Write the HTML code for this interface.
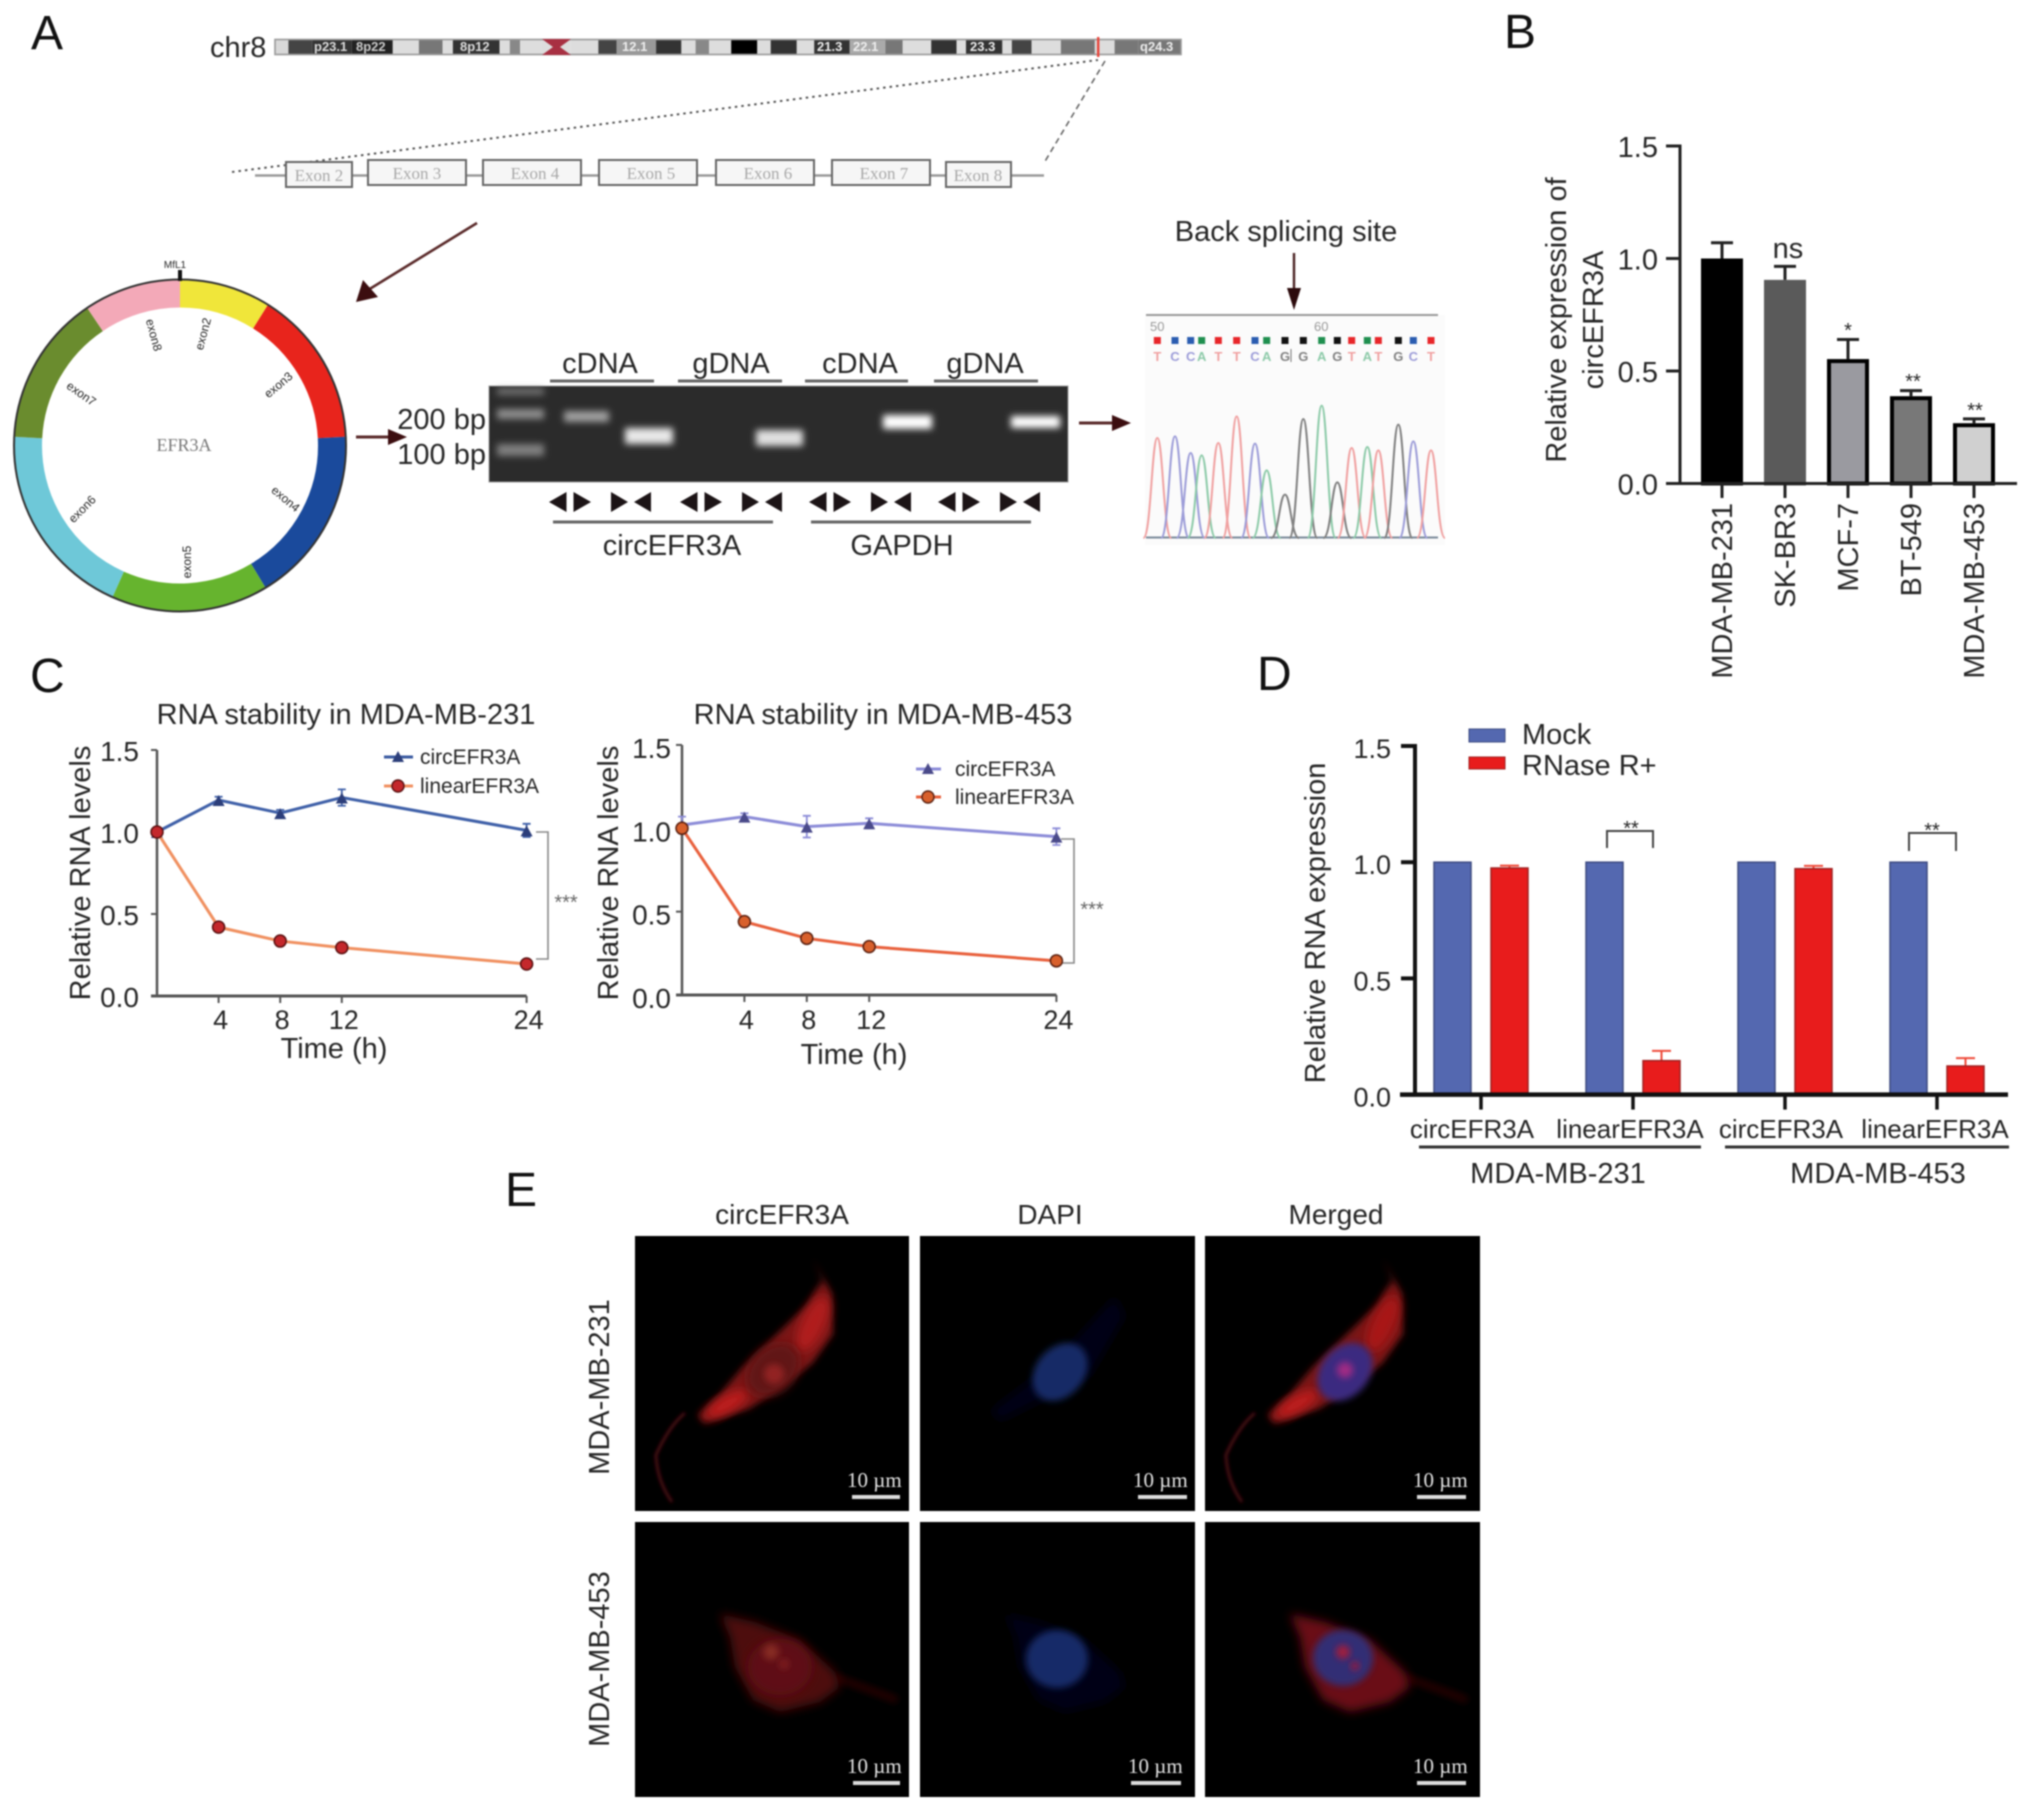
<!DOCTYPE html>
<html lang="en">
<head>
<meta charset="utf-8">
<title>circEFR3A multi-panel figure</title>
<style>
html,body{margin:0;padding:0;background:#fff;}
#figure{display:block;width:2032px;height:1811px;filter:blur(0.8px);}
text{font-family:"Liberation Sans",sans-serif;fill:#262626;}
.serif{font-family:"Liberation Serif",serif;}
.pl{font-size:48px;fill:#111;}
.t29{font-size:29px;}
.t28{font-size:28px;}
.leg{font-size:21px;}
.sb{font-family:"Liberation Serif",serif;font-size:21px;fill:#e4e4e4;}
.ex{font-family:"Liberation Serif",serif;font-size:17px;fill:#a8a8a8;text-anchor:middle;}
.rl{font-size:12px;fill:#222;text-anchor:middle;}
.mid{text-anchor:middle;}
.end{text-anchor:end;}
</style>
</head>
<body>
<svg id="figure" width="2032" height="1811" viewBox="0 0 2032 1811">
<defs>
  <filter id="b1" x="-30%" y="-30%" width="160%" height="160%"><feGaussianBlur stdDeviation="1.5"/></filter>
  <filter id="b2" x="-30%" y="-60%" width="160%" height="220%"><feGaussianBlur stdDeviation="3.4"/></filter>
  <filter id="b5" x="-40%" y="-40%" width="180%" height="180%"><feGaussianBlur stdDeviation="5"/></filter>
  <filter id="b9" x="-60%" y="-60%" width="220%" height="220%"><feGaussianBlur stdDeviation="9"/></filter>
  <polygon id="cell-a" points="177.5,21.5 196.6,57 198,98 177.5,127 145.6,152 113.7,173 69,187.6 62.7,179 85,158 108,131 140,100 172,69 186,44"/>
  <polygon id="cell-b" points="85,92 120,100 165,118 200,150 205,165 185,180 145,190 118,178 100,145 95,115"/>
</defs>
<rect width="2032" height="1811" fill="#fff"/>

<!-- Panel labels -->
<text class="pl" x="31" y="49">A</text>
<text class="pl" x="1504" y="48">B</text>
<text class="pl" x="30" y="692">C</text>
<text class="pl" x="1257" y="690">D</text>
<text class="pl" x="505" y="1206">E</text>

<!-- Panel A: chromosome -->
<g id="panel-a">
  <text class="t29" x="210" y="57">chr8</text>
  <g id="ideogram"></g>
  <polygon points="542,39 571,39 560,47 571,55 542,55 553,47" fill="#a83042"/>
  <rect x="1097" y="37" width="2.4" height="20" fill="#e8443a"/>
  <g font-family="Liberation Mono, monospace" font-weight="bold">
    <text x="314" y="51" font-size="13" style="fill:#ddd">p23.1</text>
    <text x="356" y="51" font-size="13" style="fill:#ccc">8p22</text>
    <text x="460" y="51" font-size="13" style="fill:#ddd">8p12</text>
    <text x="622" y="51" font-size="13" style="fill:#eee">12.1</text>
    <text x="817" y="51" font-size="13" style="fill:#eee">21.3</text>
    <text x="853" y="51" font-size="13" style="fill:#eee">22.1</text>
    <text x="970" y="51" font-size="13" style="fill:#eee">23.3</text>
    <text x="1140" y="51" font-size="13" style="fill:#eee">q24.3</text>
  </g>
  <line x1="232" y1="172" x2="1098" y2="60" stroke="#555" stroke-width="2" stroke-dasharray="2.5 4"/>
  <line x1="1105" y1="61" x2="1044" y2="163" stroke="#666" stroke-width="1.6" stroke-dasharray="6 4"/>

  <line x1="255" y1="175.5" x2="1044" y2="175.5" stroke="#999" stroke-width="2.4"/>
  <g fill="#f6f6f6" stroke="#666" stroke-width="2">
    <rect x="286" y="162" width="66" height="25"/>
    <rect x="368" y="160" width="98" height="25"/>
    <rect x="483" y="160" width="98" height="25"/>
    <rect x="599" y="160" width="98" height="25"/>
    <rect x="716" y="160" width="98" height="25"/>
    <rect x="832" y="160" width="98" height="25"/>
    <rect x="946" y="162" width="65" height="25"/>
  </g>
  <text class="ex" x="319" y="181">Exon 2</text>
  <text class="ex" x="417" y="179">Exon 3</text>
  <text class="ex" x="535" y="179">Exon 4</text>
  <text class="ex" x="651" y="179">Exon 5</text>
  <text class="ex" x="768" y="179">Exon 6</text>
  <text class="ex" x="884" y="179">Exon 7</text>
  <text class="ex" x="978" y="181">Exon 8</text>

  <line x1="477" y1="223" x2="368" y2="290" stroke="#5a2a2a" stroke-width="2.6"/>
  <polygon points="356,302 363,280 378,297" fill="#3c0e10"/>

  <!-- circular RNA -->
  <g id="ring"></g>
  <circle cx="180" cy="445.5" r="166" fill="none" stroke="#333" stroke-width="2"/>
  <line x1="180" y1="270" x2="180" y2="281" stroke="#111" stroke-width="4"/>
  <text x="175" y="268" font-size="10" class="mid">MfL1</text>
  <text class="serif" x="184" y="451" font-size="18" text-anchor="middle" style="fill:#777">EFR3A</text>
  <text class="rl" transform="translate(207,335) rotate(-75)">exon2</text>
  <text class="rl" transform="translate(281,388) rotate(-40)">exon3</text>
  <text class="rl" transform="translate(283,502) rotate(40)">exon4</text>
  <text class="rl" transform="translate(191,562) rotate(-90)">exon5</text>
  <text class="rl" transform="translate(85,512) rotate(-45)">exon6</text>
  <text class="rl" transform="translate(79,397) rotate(35)">exon7</text>
  <text class="rl" transform="translate(150,336) rotate(75)">exon8</text>

  <line x1="356" y1="437" x2="392" y2="437" stroke="#5a2a2a" stroke-width="3"/>
  <polygon points="407,437 388,429 388,445" fill="#3c0e10"/>

  <!-- gel -->
  <text class="t29 end" x="486" y="429">200 bp</text>
  <text class="t29 end" x="486" y="464">100 bp</text>
  <g>
    <text class="t29 mid" x="600" y="373">cDNA</text>
    <text class="t29 mid" x="731" y="373">gDNA</text>
    <text class="t29 mid" x="860" y="373">cDNA</text>
    <text class="t29 mid" x="985" y="373">gDNA</text>
    <rect x="550" y="379.5" width="104" height="3" fill="#666"/>
    <rect x="678" y="379.5" width="104" height="3" fill="#666"/>
    <rect x="805" y="379.5" width="103" height="3" fill="#666"/>
    <rect x="934" y="379.5" width="104" height="3" fill="#666"/>
  </g>
  <g id="gel">
    <rect x="489" y="386" width="579" height="96" fill="#2b2b2b" stroke="#999" stroke-width="1"/>
    <g filter="url(#b2)" fill="#8e8e8e">
      <rect x="497" y="388" width="47" height="7" opacity=".7"/>
      <rect x="497" y="409" width="47" height="10"/>
      <rect x="497" y="444" width="47" height="12" opacity=".85"/>
    </g>
    <g filter="url(#b2)">
      <rect x="564" y="411" width="45" height="11" fill="#a0a0a0"/>
      <rect x="625" y="428" width="48" height="16" fill="#e8e8e8"/>
      <rect x="756" y="430" width="47" height="16" fill="#e0e0e0"/>
      <rect x="883" y="415" width="49" height="14" fill="#fff"/>
      <rect x="1011" y="416" width="49" height="12" fill="#fff"/>
    </g>
  </g>
  <g id="primers" fill="#1c1416"></g>
  <rect x="553" y="520.5" width="220" height="3" fill="#666"/>
  <rect x="811" y="520.5" width="220" height="3" fill="#666"/>
  <text class="t29 mid" x="672" y="555">circEFR3A</text>
  <text class="t29 mid" x="902" y="555">GAPDH</text>
  <line x1="1079" y1="423" x2="1116" y2="423" stroke="#5a2a2a" stroke-width="3"/>
  <polygon points="1131,423 1112,415 1112,431" fill="#3c0e10"/>

  <!-- chromatogram -->
  <text class="t29 mid" x="1286" y="241">Back splicing site</text>
  <line x1="1294" y1="253" x2="1294" y2="292" stroke="#4a2222" stroke-width="2.4"/>
  <polygon points="1294,310 1287,288 1301,288" fill="#2c0a0c"/>
  <rect x="1145" y="315" width="300" height="230" fill="#fbfbfb"/>
  <line x1="1146" y1="315" x2="1438" y2="315" stroke="#999" stroke-width="2"/>
  <text x="1150" y="331" font-size="13" style="fill:#999">50</text>
  <text x="1314" y="331" font-size="13" style="fill:#999">60</text>
  <g id="chromatogram"></g>
  <line x1="1291" y1="349" x2="1291" y2="362" stroke="#777" stroke-width="1"/>
</g>

<!-- Panel B -->
<g id="panel-b">
  <text class="t29 mid" transform="translate(1566,320) rotate(-90)">Relative expression of</text>
  <text class="t29 mid" transform="translate(1603,320) rotate(-90)">circEFR3A</text>
  <text class="t29 mid" x="1788" y="258">ns</text>
  <text class="mid" font-size="20" x="1848" y="337">*</text>
  <text class="mid" font-size="20" x="1913" y="388">**</text>
  <text class="mid" font-size="20" x="1975" y="417">**</text>
</g>

<!-- Panel C -->
<g id="panel-c">
  <text class="mid" font-size="29" x="346" y="724">RNA stability in MDA-MB-231</text>
  <text class="mid" font-size="29" x="883" y="724">RNA stability in MDA-MB-453</text>
  <text class="t29 mid" transform="translate(90,873) rotate(-90)">Relative RNA levels</text>
  <text class="t29 mid" transform="translate(618,873) rotate(-90)">Relative RNA levels</text>
  <text class="t29 mid" x="334" y="1058">Time (h)</text>
  <text class="t29 mid" x="854" y="1064">Time (h)</text>
  <g>
    <line x1="384" y1="757" x2="413" y2="757" stroke="#3a5aa0" stroke-width="3"/>
    <polygon points="398,751 404,762 392,762" fill="#2c3e7a"/>
    <text class="leg" x="420" y="764">circEFR3A</text>
    <line x1="384" y1="786" x2="413" y2="786" stroke="#f09060" stroke-width="3"/>
    <circle cx="398" cy="786" r="6" fill="#c4282c" stroke="#5a1010" stroke-width="1.4"/>
    <text class="leg" x="420" y="793">linearEFR3A</text>
  </g>
  <g>
    <line x1="916" y1="769" x2="941" y2="769" stroke="#8c8cd8" stroke-width="3"/>
    <polygon points="928,763 934,774 922,774" fill="#4a4a8a"/>
    <text class="leg" x="955" y="776">circEFR3A</text>
    <line x1="916" y1="797" x2="941" y2="797" stroke="#e8603c" stroke-width="3"/>
    <circle cx="928" cy="797" r="6" fill="#d8602c" stroke="#5a2010" stroke-width="1.4"/>
    <text class="leg" x="955" y="804">linearEFR3A</text>
  </g>
  <polyline points="536,832 548,832 548,959 536,959" fill="none" stroke="#888" stroke-width="1.6"/>
  <polyline points="1061,839 1074,839 1074,963 1061,963" fill="none" stroke="#888" stroke-width="1.6"/>
  <text class="mid" font-size="20" style="fill:#666" x="566" y="909">***</text>
  <text class="mid" font-size="20" style="fill:#666" x="1092" y="916">***</text>
</g>

<!-- Panel D -->
<g id="panel-d">
  <text class="t29 mid" transform="translate(1325,923) rotate(-90)">Relative RNA expression</text>
  <rect x="1469" y="729" width="36" height="13" fill="#5468b0" stroke="#3c4a80"/>
  <text class="t29" x="1522" y="744">Mock</text>
  <rect x="1469" y="757" width="36" height="12" fill="#e81c1c" stroke="#a02020"/>
  <text class="t29" x="1522" y="775">RNase R+</text>
  <polyline points="1607,848 1607,831 1653,831 1653,848" fill="none" stroke="#444" stroke-width="2"/>
  <polyline points="1909,851 1909,833 1956,833 1956,851" fill="none" stroke="#444" stroke-width="2"/>
  <text class="mid" font-size="20" x="1631" y="835">**</text>
  <text class="mid" font-size="20" x="1932" y="837">**</text>
  <rect x="1419" y="1145.5" width="282" height="3" fill="#333"/>
  <rect x="1725" y="1145.5" width="284" height="3" fill="#333"/>
  <text class="mid" font-size="29" x="1558" y="1183">MDA-MB-231</text>
  <text class="mid" font-size="29" x="1878" y="1183">MDA-MB-453</text>
</g>

<!-- Panel E -->
<g id="panel-e">
  <text class="t28 mid" x="782" y="1224">circEFR3A</text>
  <text class="t28 mid" x="1050" y="1224">DAPI</text>
  <text class="t28 mid" x="1336" y="1224">Merged</text>
  <text class="t29 mid" transform="translate(609,1387) rotate(-90)">MDA-MB-231</text>
  <text class="t29 mid" transform="translate(609,1659) rotate(-90)">MDA-MB-453</text>

  <!-- Row 1 red -->
  <g transform="translate(635,1236)">
    <rect width="274" height="275" fill="#000"/>
    <use href="#cell-a" fill="#7a1414" filter="url(#b2)"/>
    <path d="M50,177 Q34,190 21,219 Q22,245 37,266" fill="none" stroke="#4e0c14" stroke-width="3" filter="url(#b1)"/>
    <ellipse cx="92" cy="168" rx="24" ry="8" transform="rotate(-30 92 168)" fill="#c01c1c" filter="url(#b5)"/>
    <ellipse cx="178" cy="88" rx="12" ry="30" transform="rotate(25 178 88)" fill="#b01a1a" filter="url(#b5)"/>
    <ellipse cx="180" cy="30" rx="14" ry="20" fill="#000" opacity=".6" filter="url(#b5)"/>
    <ellipse cx="138" cy="134" rx="30" ry="22" transform="rotate(-45 138 134)" fill="#601212" filter="url(#b5)"/>
    <circle cx="139" cy="138" r="10" fill="#922424" filter="url(#b2)"/>
  </g>
  <!-- Row 1 DAPI -->
  <g transform="translate(920,1236)">
    <rect width="275" height="275" fill="#000"/>
    <polygon points="195,60 205,80 170,140 80,185 70,175 130,130" fill="#020412" filter="url(#b5)"/>
    <ellipse cx="140" cy="136" rx="32" ry="24" transform="rotate(-50 140 136)" fill="#182a66" filter="url(#b2)"/>
  </g>
  <!-- Row 1 merged -->
  <g transform="translate(1205,1236)">
    <rect width="275" height="275" fill="#000"/>
    <use href="#cell-a" fill="#7a1414" filter="url(#b2)"/>
    <path d="M50,177 Q34,190 21,219 Q22,245 37,266" fill="none" stroke="#4e0c14" stroke-width="3" filter="url(#b1)"/>
    <ellipse cx="92" cy="168" rx="24" ry="8" transform="rotate(-30 92 168)" fill="#c01c1c" filter="url(#b5)"/>
    <ellipse cx="178" cy="88" rx="12" ry="30" transform="rotate(25 178 88)" fill="#a81818" filter="url(#b5)"/>
    <ellipse cx="180" cy="30" rx="14" ry="20" fill="#000" opacity=".6" filter="url(#b5)"/>
    <ellipse cx="140" cy="136" rx="32" ry="24" transform="rotate(-50 140 136)" fill="#3a2c80" filter="url(#b2)"/>
    <circle cx="140" cy="134" r="8" fill="#a02a84" filter="url(#b2)"/>
  </g>
  <!-- Row 2 red -->
  <g transform="translate(635,1522)">
    <rect width="274" height="275" fill="#000"/>
    <path d="M200,155 L262,178" fill="none" stroke="#260606" stroke-width="7" filter="url(#b2)"/>
    <use href="#cell-b" fill="#4e0c0e" filter="url(#b5)"/>
    <ellipse cx="145" cy="145" rx="32" ry="28" fill="#5e1012" filter="url(#b5)"/>
    <circle cx="136" cy="130" r="8" fill="#862a24" filter="url(#b2)"/>
    <circle cx="149" cy="142" r="5" fill="#802020" filter="url(#b2)"/>
  </g>
  <!-- Row 2 DAPI -->
  <g transform="translate(920,1522)">
    <rect width="275" height="275" fill="#000"/>
    <use href="#cell-b" fill="#020412" filter="url(#b5)"/>
    <ellipse cx="137" cy="137" rx="31" ry="29" fill="#172a68" filter="url(#b2)"/>
  </g>
  <!-- Row 2 merged -->
  <g transform="translate(1205,1522)">
    <rect width="275" height="275" fill="#000"/>
    <path d="M200,155 L262,178" fill="none" stroke="#260606" stroke-width="7" filter="url(#b2)"/>
    <use href="#cell-b" fill="#6a1014" filter="url(#b5)"/>
    <ellipse cx="138" cy="136" rx="30" ry="28" fill="#302e74" filter="url(#b2)"/>
    <circle cx="138" cy="130" r="7" fill="#a01a3c" filter="url(#b2)"/>
    <circle cx="150" cy="144" r="4.5" fill="#981a3c" filter="url(#b2)"/>
  </g>
  <!-- Scale bars -->
  <g fill="#dcdcdc">
    <rect x="852" y="1495" width="48" height="4"/>
    <rect x="1138" y="1495" width="49" height="4"/>
    <rect x="1417" y="1495" width="49" height="4"/>
    <rect x="853" y="1781" width="47" height="4"/>
    <rect x="1131" y="1781" width="50" height="4"/>
    <rect x="1417" y="1781" width="49" height="4"/>
  </g>
  <text class="sb" x="847" y="1487">10 µm</text>
  <text class="sb" x="1133" y="1487">10 µm</text>
  <text class="sb" x="1413" y="1487">10 µm</text>
  <text class="sb" x="847" y="1773">10 µm</text>
  <text class="sb" x="1128" y="1773">10 µm</text>
  <text class="sb" x="1413" y="1773">10 µm</text>
</g>
</svg>

<script>
/* ---------- Data ---------- */
// Panel B
const bCategories = ['MDA-MB-231', 'SK-BR3', 'MCF-7', 'BT-549', 'MDA-MB-453'];
const bValues = [1.0, 0.905, 0.553, 0.388, 0.268];
const bErrors = [0.07, 0.06, 0.087, 0.025, 0.019];
const bTicks = [0, 0.5, 1.0, 1.5];
const bFills = ['#000000', '#5a5a5a', '#9a9aa0', '#787878', '#d0d0d0'];
const bEdges = ['#000000', '#5a5a5a', '#000000', '#000000', '#000000'];

// Panel C
const cTimes = [0, 4, 8, 12, 24];
const cTimeLabels = ['4', '8', '12', '24'];
const cYTicks = [0, 0.5, 1.0, 1.5];
const cCirc231 = [1.0, 1.195, 1.115, 1.21, 1.01];
const cCirc231Err = [0.02, 0.02, 0.02, 0.05, 0.04];
const cLinear231 = [1.0, 0.42, 0.335, 0.295, 0.195];
const cLinear231Err = [0.01, 0.02, 0.01, 0.01, 0.01];
const cCirc453 = [1.02, 1.07, 1.01, 1.03, 0.95];
const cCirc453Err = [0.05, 0.02, 0.065, 0.03, 0.05];
const cLinear453 = [1.0, 0.44, 0.34, 0.29, 0.205];
const cLinear453Err = [0.01, 0.02, 0.01, 0.01, 0.01];

// Panel D
const dGroups = ['circEFR3A', 'linearEFR3A', 'circEFR3A', 'linearEFR3A'];
const dMock = [1.0, 1.0, 1.0, 1.0];
const dRnase = [0.975, 0.146, 0.972, 0.123];
const dRnaseErr = [0.01, 0.042, 0.012, 0.034];
const dTicks = [0, 0.5, 1.0, 1.5];
const dLabelShift = [-9, -3, -4, -2];

// Panel A circular RNA: exon arc spans in degrees, clockwise from the junction
const ringExons = ['exon2', 'exon3', 'exon4', 'exon5', 'exon6', 'exon7', 'exon8'];
const ringSpans = [32, 55, 62, 55, 69, 53, 34];
const ringColors = ['#f0e63a', '#e8241c', '#1a4a9c', '#66b42e', '#6ec8d8', '#6a8c2e', '#f3a9b8'];

// Panel A chromatogram
const chromBases = ['T','C','C','A','T','T','C','A','G','G','A','G','T','A','T','G','C','T'];
const chromScans = [82,135,182,215,265,320,375,410,465,520,575,622,665,712,745,805,850,903];
const chromSignal = [300,305,255,248,285,365,283,203,130,357,397,167,270,273,263,340,290,263];
const baseOrder = ['T','C','A','G'];
const baseInk = ['#e8262a','#2a5cb0','#1f8f4f','#111111'];
const basePale = ['#f0a0a0','#9c9cd8','#8ccaa8','#808080'];

// Panel A ideogram: band edges (cytoband scale) and grey shade of each band
const bandEdges = [0,17,47,97,149,182,212,225,284,297,310,337,374,409,432,482,514,532,549,577,610,627,660,682,727,772,794,830,862,874,920,932,957,994,1037,1062,1092,1146];
const bandShades = ['#d8d8d8','#444','#333','#222','#ddd','#777','#ddd','#333','#ddd','#888','#ddd','#ddd','#ddd','#444','#999','#333','#ddd','#888','#ddd','#000','#ddd','#333','#ddd','#333','#aaa','#777','#ddd','#333','#ddd','#333','#ddd','#444','#ddd','#777','#ddd','#777','#777'];

// Panel A primers: orientation of each arrowhead pair, one per gel lane
const primerPairs = ['out','in','out','in','out','in','out','in'];
const primerLanes = [0,1,2,3,4,5,6,7];

/* ---------- Helpers ---------- */
const svg = document.getElementById('figure');
const NS = svg.namespaceURI;
function mk(tag, attrs, parent) {
  const el = document.createElementNS(NS, tag);
  for (const k in attrs) el.setAttribute(k, attrs[k]);
  parent.appendChild(el);
  return el;
}
function fmt(v) { return v.toFixed(1); }

/* ---------- Ideogram ---------- */
const ideogram = document.getElementById('ideogram');
function ideoX(u) { return 275 + u * 0.7906; }
bandShades.forEach(function (shade, i) {
  const band = mk('rect', {x: ideoX(bandEdges[i]), y: 40, width: ideoX(bandEdges[i + 1]) - ideoX(bandEdges[i]), height: 14, fill: shade}, ideogram);
  
  
});
const ideoFrame = mk('rect', {x: 275, y: 39.5, width: 906, height: 15, fill: 'none', stroke: '#999', 'stroke-width': 1.6}, ideogram);



/* ---------- Ring ---------- */
const ring = document.getElementById('ring');
function ringPoint(deg, r) {
  const a = (deg - 90) * Math.PI / 180;
  return [180 + r * Math.cos(a), 445.5 + r * Math.sin(a)];
}
let ringAngle = 0;
ringSpans.forEach(function (span, i) {
  const p0 = ringPoint(ringAngle, 152);
  const p1 = ringPoint(ringAngle + span, 152);
  const arc = mk('path', {d: 'M' + p0[0] + ',' + p0[1] + ' A152,152 0 0 1 ' + p1[0] + ',' + p1[1], fill: 'none', stroke: ringColors[i], 'stroke-width': 28}, ring);
  
  
  ringAngle += span;
});

/* ---------- Primers ---------- */
const primers = document.getElementById('primers');
function primerX(lane) { return lane % 2 === 0 ? 570 + (lane / 2) * 131 - (lane >= 4 ? 2 : 0) - (lane >= 6 ? 2 : 0) : 631 + ((lane - 1) / 2) * 131 - (lane >= 5 ? 2 : 0) - (lane >= 7 ? 2 : 0); }
primerLanes.forEach(function (lane, i) {
  const c = primerX(lane);
  const outward = primerPairs[i] === 'out';
  const pts1 = outward ? [[c - 21, 502], [c - 3.5, 492], [c - 3.5, 512]] : [[c - 20, 492], [c - 20, 512], [c - 3, 502]];
  const pts2 = outward ? [[c + 21, 502], [c + 3.5, 492], [c + 3.5, 512]] : [[c + 20, 492], [c + 20, 512], [c + 3, 502]];
  [pts1, pts2].forEach(function (pts) {
    const tri = mk('polygon', {points: pts.map(function (p) { return p.join(','); }).join(' ')}, primers);
    
    
  });
});

/* ---------- Chromatogram ---------- */
const chrom = document.getElementById('chromatogram');
function chromX(scan) { return 1130 + scan / 3; }
function chromY(sig) { return 538 - sig / 3; }
const chromBase = mk('line', {x1: 1146, y1: 537.5, x2: 1438, y2: 537.5, stroke: '#7a8a9a', 'stroke-width': 2}, chrom);


chromBases.forEach(function (b, i) {
  const k = baseOrder.indexOf(b);
  const x = chromX(chromScans[i]);
  const peakTop = chromY(chromSignal[i]);
  const w = 14;
  const peak = mk('path', {d: 'M' + (x - w) + ',538 C' + (x - w * 0.45) + ',538 ' + (x - w * 0.4) + ',' + peakTop + ' ' + x + ',' + peakTop + ' C' + (x + w * 0.4) + ',' + peakTop + ' ' + (x + w * 0.45) + ',538 ' + (x + w) + ',538', fill: 'none', stroke: basePale[k], 'stroke-width': 2}, chrom);
  
  
  const sq = mk('rect', {x: x - 3.5, y: 337, width: 7, height: 7, fill: baseInk[k]}, chrom);
  
  
  const letter = mk('text', {x: x, y: 361, 'font-size': 13, 'font-weight': 'bold', 'text-anchor': 'middle', style: 'fill:' + basePale[k]}, chrom);
  
  
  letter.textContent = b;
});

/* ---------- Panel B ---------- */
const panelB = document.getElementById('panel-b');
function bX(i) { return 1722 + i * 63; }
function bY(v) { return 483.5 - v * 225; }
bCategories.forEach(function (cat, i) {
  const x = bX(i);
  const top = bY(bValues[i]);
  const errTop = bY(bValues[i] + bErrors[i]);
  const stem = mk('line', {x1: x, y1: top, x2: x, y2: errTop, stroke: '#222', 'stroke-width': 3}, panelB);
  
  
  const cap = mk('line', {x1: x - 11, y1: errTop, x2: x + 11, y2: errTop, stroke: '#222', 'stroke-width': 3}, panelB);
  
  
  const bar = mk('rect', {x: x - 19, y: top + 2, width: 38, height: bY(0) - top - 2, fill: bFills[i], stroke: bEdges[i], 'stroke-width': 4}, panelB);
  
  
  const tick = mk('line', {x1: x, y1: 483, x2: x, y2: 498, stroke: '#222', 'stroke-width': 3}, panelB);
  
  
  const label = mk('text', {transform: 'translate(' + (x + 10) + ',503) rotate(-90)', 'font-size': 29, 'text-anchor': 'end'}, panelB);
  
  
  label.textContent = cat;
});
const bYAxis = mk('line', {x1: 1680, y1: bY(1.5) - 1.5, x2: 1680, y2: bY(0), stroke: '#222', 'stroke-width': 3}, panelB);


const bXAxis = mk('line', {x1: 1680, y1: bY(0), x2: 2017, y2: bY(0), stroke: '#222', 'stroke-width': 3}, panelB);


bTicks.forEach(function (t) {
  const tick = mk('line', {x1: 1666, y1: bY(t), x2: 1680, y2: bY(t), stroke: '#222', 'stroke-width': 3}, panelB);
  
  
  const label = mk('text', {x: 1658, y: bY(t) + 11, 'font-size': 29, 'text-anchor': 'end'}, panelB);
  
  
  label.textContent = fmt(t);
});

/* ---------- Panel C ---------- */
const panelC = document.getElementById('panel-c');
function c231X(t) { return 157 + t * 15.4; }
function c231Y(v) { return 996 - v * 164; }
function c453X(t) { return 682 + t * 15.6; }
function c453Y(v) { return 995 - v * 166.7; }

function drawAxes(xFn, yFn, yLabelX, tickLabelY, yLabelDy, xLabelDx) {
  const yAxis = mk('line', {x1: xFn(0), y1: yFn(1.5), x2: xFn(0), y2: yFn(0), stroke: '#555', 'stroke-width': 2.5}, panelC);
  
  
  const xAxis = mk('line', {x1: xFn(0) - 6, y1: yFn(0), x2: xFn(24), y2: yFn(0), stroke: '#555', 'stroke-width': 3}, panelC);
  
  
  cYTicks.forEach(function (t) {
    const tick = mk('line', {x1: xFn(0) - 6, y1: yFn(t), x2: xFn(0), y2: yFn(t), stroke: '#555', 'stroke-width': 2}, panelC);
    
    
    const label = mk('text', {x: yLabelX, y: yFn(t) + yLabelDy, 'font-size': 28, 'text-anchor': 'end'}, panelC);
    
    
    label.textContent = fmt(t);
  });
  cTimeLabels.forEach(function (lab) {
    const x = xFn(Number(lab));
    const tick = mk('line', {x1: x, y1: yFn(0), x2: x, y2: yFn(0) + 7, stroke: '#555', 'stroke-width': 2}, panelC);
    
    
    const label = mk('text', {x: x + xLabelDx, y: tickLabelY, 'font-size': 27, 'text-anchor': 'middle'}, panelC);
    
    
    label.textContent = lab;
  });
}
function drawSeries(vals, errs, xFn, yFn, lineColor, fill, edge, triangle) {
  const line = mk('polyline', {points: vals.map(function (v, i) { return xFn(cTimes[i]) + ',' + yFn(v); }).join(' '), fill: 'none', stroke: lineColor, 'stroke-width': 3}, panelC);
  
  
  vals.forEach(function (v, i) {
    const x = xFn(cTimes[i]);
    const y = yFn(v);
    const err = mk('path', {d: 'M' + (x - 4) + ',' + yFn(v + errs[i]) + ' H' + (x + 4) + ' M' + x + ',' + yFn(v + errs[i]) + ' V' + yFn(v - errs[i]) + ' M' + (x - 4) + ',' + yFn(v - errs[i]) + ' H' + (x + 4), fill: 'none', stroke: lineColor, 'stroke-width': 1.8}, panelC);
    
    
    if (triangle) {
      const tri = mk('polygon', {points: x + ',' + (y - 5) + ' ' + (x + 6) + ',' + (y + 6) + ' ' + (x - 6) + ',' + (y + 6), fill: fill}, panelC);
      
      
    } else {
      const dot = mk('circle', {cx: x, cy: y, r: 6, fill: fill, stroke: edge, 'stroke-width': 1.5}, panelC);
      
      
    }
  });
}
drawAxes(c231X, c231Y, 139, 1029, 11, 2);
drawAxes(c453X, c453Y, 671, 1029, 13, 2);
drawSeries(cCirc231, cCirc231Err, c231X, c231Y, '#3f60a8', '#2c3e7a', '#2c3e7a', true);
drawSeries(cLinear231, cLinear231Err, c231X, c231Y, '#f09060', '#c4282c', '#5a1010', false);
drawSeries(cCirc453, cCirc453Err, c453X, c453Y, '#8c8cd8', '#4a4a8a', '#4a4a8a', true);
drawSeries(cLinear453, cLinear453Err, c453X, c453Y, '#e8603c', '#d8602c', '#5a2010', false);

/* ---------- Panel D ---------- */
const panelD = document.getElementById('panel-d');
function dX(g) { return 1481 + g * 152; }
function dY(v) { return 1094.6 - v * 232.4; }
dGroups.forEach(function (name, g) {
  const c = dX(g);
  const mock = mk('rect', {x: c - 47, y: dY(dMock[g]), width: 37, height: dY(0) - dY(dMock[g]), fill: '#5468b0', stroke: '#3c4a80', 'stroke-width': 1.5}, panelD);
  
  
  const errTop = dY(dRnase[g] + dRnaseErr[g]);
  const err = mk('path', {d: 'M' + (c + 19) + ',' + errTop + ' H' + (c + 38) + ' M' + (c + 28.5) + ',' + errTop + ' V' + dY(dRnase[g]), fill: 'none', stroke: '#ee4a3a', 'stroke-width': 2}, panelD);
  
  
  const rn = mk('rect', {x: c + 10, y: dY(dRnase[g]), width: 37, height: dY(0) - dY(dRnase[g]), fill: '#e81c1c', stroke: '#a02020', 'stroke-width': 1.5}, panelD);
  
  
  const tick = mk('line', {x1: c, y1: dY(0), x2: c, y2: 1109.6, stroke: '#111', 'stroke-width': 3.5}, panelD);
  
  
  const label = mk('text', {x: c + dLabelShift[g], y: 1138, 'font-size': 26, 'text-anchor': 'middle'}, panelD);
  
  
  label.textContent = name;
});
const dYAxis = mk('line', {x1: 1415, y1: dY(1.5) - 2, x2: 1415, y2: dY(0), stroke: '#111', 'stroke-width': 4}, panelD);


const dXAxis = mk('line', {x1: 1400, y1: dY(0), x2: 2008, y2: dY(0), stroke: '#111', 'stroke-width': 4.5}, panelD);


dTicks.forEach(function (t) {
  const tick = mk('line', {x1: 1401, y1: dY(t), x2: 1415, y2: dY(t), stroke: '#111', 'stroke-width': 4}, panelD);
  
  
  const label = mk('text', {x: 1391, y: dY(t) + 12, 'font-size': 27, 'text-anchor': 'end'}, panelD);
  
  
  label.textContent = fmt(t);
});
</script>
</body>
</html>
